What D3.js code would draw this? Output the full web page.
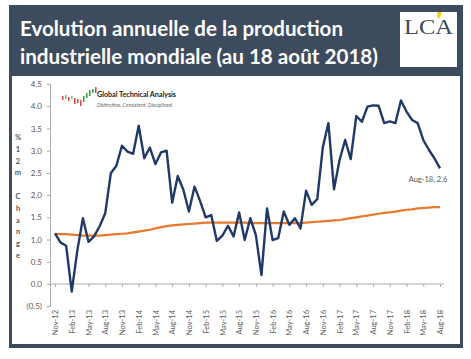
<!DOCTYPE html>
<html><head><meta charset="utf-8">
<script src="https://cdn.jsdelivr.net/npm/d3@7"></script>
<style>body{margin:0;background:#fff}svg{display:block}</style>
</head><body>
<svg id="c" width="471" height="359"></svg>
<script>
const months = ["Nov-12","Dec-12","Jan-13","Feb-13","Mar-13","Apr-13","May-13","Jun-13","Jul-13","Aug-13","Sep-13","Oct-13",
"Nov-13","Dec-13","Jan-14","Feb-14","Mar-14","Apr-14","May-14","Jun-14","Jul-14","Aug-14","Sep-14","Oct-14",
"Nov-14","Dec-14","Jan-15","Feb-15","Mar-15","Apr-15","May-15","Jun-15","Jul-15","Aug-15","Sep-15","Oct-15",
"Nov-15","Dec-15","Jan-16","Feb-16","Mar-16","Apr-16","May-16","Jun-16","Jul-16","Aug-16","Sep-16","Oct-16",
"Nov-16","Dec-16","Jan-17","Feb-17","Mar-17","Apr-17","May-17","Jun-17","Jul-17","Aug-17","Sep-17","Oct-17",
"Nov-17","Dec-17","Jan-18","Feb-18","Mar-18","Apr-18","May-18","Jun-18","Jul-18","Aug-18"];
const tickLabels = ["Nov-12","Feb-13","May-13","Aug-13","Nov-13","Feb-14","May-14","Aug-14","Nov-14","Feb-15","May-15","Aug-15",
"Nov-15","Feb-16","May-16","Aug-16","Nov-16","Feb-17","May-17","Aug-17","Nov-17","Feb-18","May-18","Aug-18"];
const production = [1.14,0.93,0.86,-0.17,0.75,1.48,0.95,1.07,1.30,1.59,2.49,2.66,
3.11,2.98,2.93,3.56,2.83,3.07,2.70,2.96,3.00,1.83,2.43,2.12,
1.63,2.19,1.87,1.50,1.55,0.97,1.09,1.31,1.07,1.61,0.99,1.48,
1.10,0.20,1.70,0.99,1.03,1.63,1.33,1.48,1.25,2.10,1.78,1.91,
3.08,3.62,2.13,2.79,3.24,2.81,3.78,3.65,3.99,4.02,4.01,3.62,
3.66,3.62,4.13,3.88,3.69,3.62,3.24,3.02,2.83,2.60];
const trend = [1.13,1.12,1.12,1.11,1.10,1.09,1.09,1.09,1.09,1.10,1.11,1.12,
1.13,1.14,1.16,1.18,1.20,1.22,1.25,1.28,1.30,1.32,1.33,1.34,
1.35,1.36,1.37,1.38,1.38,1.38,1.38,1.38,1.38,1.38,1.38,1.37,
1.37,1.37,1.37,1.37,1.37,1.37,1.37,1.37,1.37,1.38,1.39,1.40,
1.41,1.42,1.43,1.44,1.46,1.48,1.50,1.52,1.54,1.56,1.58,1.60,
1.61,1.63,1.65,1.67,1.68,1.70,1.71,1.72,1.73,1.73];
const yTicks = [-0.5,0,0.5,1,1.5,2,2.5,3,3.5,4,4.5];
const yTitleChars = ["%","1","2","m","","C","h","a","n","g","e"];
const titleLines = ["Evolution annuelle de la production","industrielle mondiale (au 18 août 2018)"];
const endLabel = "Aug-18, 2.6";

const svg = d3.select("#c");
const dark = "#3d4b5e";
const txt = "#595959";
const font = "Lato, 'Open Sans', sans-serif";

// frame
svg.append("rect").attr("x",9).attr("y",5).attr("width",454).attr("height",343).attr("fill",dark);
svg.append("rect").attr("x",12).attr("y",76).attr("width",448).attr("height",268).attr("fill","#fff");

// title
const tl = [323, 358];
svg.selectAll("text.title").data(titleLines).join("text")
  .attr("class","title").attr("x",20).attr("y",(d,i)=>36+i*28)
  .attr("fill","#fff").attr("font-family",font).attr("font-weight","bold").attr("font-size",20)
  .attr("textLength",(d,i)=>tl[i]).attr("lengthAdjust","spacingAndGlyphs").text(d=>d);

// LCA logo
svg.append("rect").attr("x",400).attr("y",12).attr("width",57).attr("height",55).attr("fill","#fff");
svg.append("text").attr("x",404).attr("y",34).attr("font-family","'Liberation Serif', serif")
  .attr("font-size",21).attr("fill",dark).attr("textLength",49).attr("lengthAdjust","spacingAndGlyphs").text("LCA");
svg.append("path").attr("d","M437,12 L442,12 L440,18 L437.5,18 Z").attr("fill","#f2d21b");

// scales
const x = d3.scaleLinear().domain([0, months.length-1]).range([55, 440]);
const y = d3.scaleLinear().domain([-0.5, 4.5]).range([306.2, 84]);

// y axis
const yAxis = d3.axisLeft(y).tickValues(yTicks).tickSize(3).tickPadding(5)
  .tickFormat(d => d < 0 ? "(" + d3.format(".1f")(-d) + ")" : d3.format(".1f")(d));
const gy = svg.append("g").attr("transform","translate(50,0)").call(yAxis);
gy.selectAll("path,line").attr("stroke","#a6adb7");
gy.selectAll("text").attr("fill",txt).attr("font-family",font).attr("font-size",8);

// x axis at zero
const tickIdx = tickLabels.map(l => months.indexOf(l));
const xAxis = d3.axisBottom(x).tickValues(tickIdx).tickSize(3).tickSizeOuter(0).tickFormat(i => months[i]);
const gx = svg.append("g").attr("transform",`translate(0,${y(0)})`).call(xAxis);
gx.select("path.domain").attr("d",`M50,0H444`).attr("stroke","#a6adb7");
gx.selectAll("line").attr("stroke","#a6adb7");
gx.selectAll("text").attr("fill",txt).attr("font-family",font).attr("font-size",7.5)
  .attr("text-anchor","end").attr("transform",`translate(0,${310-y(0)}) rotate(-90)`)
  .attr("x",0).attr("y",0).attr("dy","0.35em");

// y title stacked
svg.selectAll("text.yt").data(yTitleChars).join("text").attr("class","yt")
  .attr("x",18).attr("y",(d,i)=>140+i*11.8).attr("text-anchor","middle")
  .attr("fill",txt).attr("font-family",font).attr("font-weight","bold").attr("font-size",7.5).text(d=>d);

// lines
const line = d3.line().x((d,i)=>x(i)).y(d=>y(d));
svg.append("path").datum(trend).attr("d",line).attr("fill","none").attr("stroke","#e8782a").attr("stroke-width",2.2);
svg.append("path").datum(production).attr("d",line).attr("fill","none").attr("stroke","#1f3a68").attr("stroke-width",2.4).attr("stroke-linejoin","round");

// end label
svg.append("text").attr("x",x(production.length-1)-12).attr("y",182).attr("text-anchor","middle")
  .attr("fill",txt).attr("font-family",font).attr("font-size",7.5).text(endLabel);

// Global Technical Analysis logo (decoration)
const candles = [[0,96,100,"#e05050"],[3,95,99,"#7cc47c"],[6,97,101,"#e05050"],[9,96,99,"#7cc47c"],[12,98,104,"#e05050"],
  [15,99,103,"#e05050"],[18,100,106,"#e05050"],[21,96,102,"#3aa84a"],[24,93,98,"#3aa84a"],[27,90,96,"#3aa84a"],[30,89,93,"#3aa84a"],[33,87,93,"#e05050"]];
svg.selectAll("rect.cd").data(candles).join("rect").attr("class","cd")
  .attr("x",d=>62+d[0]).attr("y",d=>d[1]).attr("width",1.6).attr("height",d=>d[2]-d[1]).attr("fill",d=>d[3]);
svg.append("text").attr("x",97).attr("y",97).attr("font-family",font).attr("font-weight","bold")
  .attr("font-size",7.2).attr("fill","#222").attr("textLength",79).text("Global Technical Analysis");
svg.append("text").attr("x",97).attr("y",107).attr("font-family",font).attr("font-style","italic")
  .attr("font-size",5.2).attr("fill","#666").attr("textLength",76).text("Distinctive.  Consistent.  Disciplined.");
</script>
</body></html>
